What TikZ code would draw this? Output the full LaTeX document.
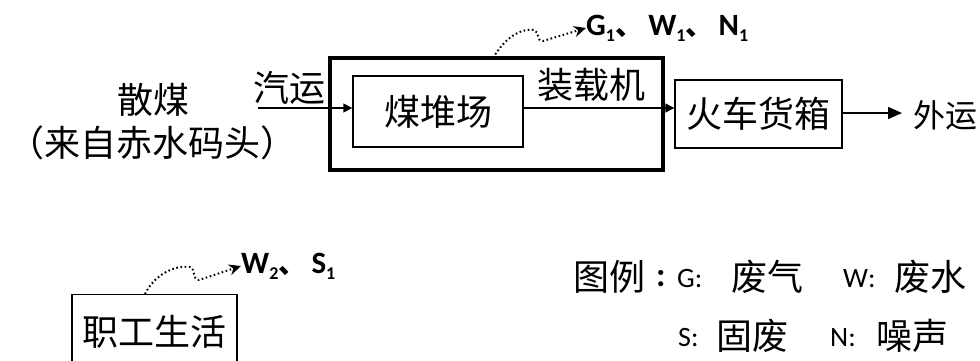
\documentclass[tikz,border=0pt]{standalone}
\usepackage{fontspec}
\setmainfont{Carlito}
\newfontfamily\cjk{Noto Sans CJK SC}
\usetikzlibrary{arrows.meta}
\newcommand\cjkbig{\cjk\fontsize{36}{40}\selectfont}
\newcommand\cjkmid{\cjk\fontsize{32}{36}\selectfont}
\newcommand\latlab{\fontsize{31}{34}\selectfont}
\newcommand\latleg{\fontsize{28}{30}\selectfont}
\newcommand\mysub[1]{\raisebox{-0.4ex}{\fontsize{18}{18}\selectfont #1}}
\newcommand\dun{{\cjk\fontsize{28}{28}\selectfont 、}}
\begin{document}
\begin{tikzpicture}[x=1pt,y=-1pt,
  thinbox/.style={draw=black,line width=1.4pt,inner sep=0pt,font=\cjkbig},
  thickbox/.style={draw=black,line width=4.5pt,inner sep=0pt},
  txt/.style={inner sep=0pt,font=\cjkbig},
  leg/.style={inner sep=0pt,anchor=west,font=\latleg},
  flow/.style={line width=1.6pt,-{Triangle[length=9pt,width=9pt]}},
  emis/.style={line width=2pt,dash pattern=on 1.6pt off 2.6pt,-{Stealth[length=12pt,width=11pt]}}]
\useasboundingbox (0,0) rectangle (980,360);
% boxes
\node[thickbox,minimum width=333pt,minimum height=112pt] (site) at (496.5,114) {};
\node[thinbox,minimum width=170pt,minimum height=71pt] (yard) at (438,111.5) {煤堆场};
\node[thinbox,minimum width=167pt,minimum height=68pt] (train) at (758.5,114) {火车货箱};
\node[thinbox,minimum width=165pt,minimum height=80pt,anchor=north] (staff) at (154.5,294) {\raisebox{8pt}{职工生活}};
% texts
\node[txt] (sanmei) at (153,100) {散煤};
\node[txt] (source) at (153,143) {（来自赤水码头）};
\node[txt] (qiyun) at (289,88) {汽运};
\node[txt] (loader) at (591,85) {装载机};
\node[txt,font=\cjkmid,anchor=west] (waiyun) at (913,115) {外运};
\node[inner sep=0pt,anchor=west,font=\latlab\bfseries] (em1) at (586,28) {G\mysub{1}\dun\,W\mysub{1}\dun\,N\mysub{1}};
\node[inner sep=0pt,anchor=west,font=\latlab\bfseries] (em2) at (241,266) {W\mysub{2}\dun\,S\mysub{1}};
% legend
\node[txt,anchor=west] (lg0) at (573,277) {图例};
\node[inner sep=0pt,anchor=west,font=\fontsize{34}{36}\selectfont\bfseries] (lgc) at (656,279) {:};
\node[leg] (lgG) at (677,279) {G:};
\node[txt,anchor=west] (lgGt) at (731,277) {废气};
\node[leg] (lgW) at (843,279) {W:};
\node[txt,anchor=west] (lgWt) at (894,277) {废水};
\node[leg] (lgS) at (678,338) {S:};
\node[txt,anchor=west] (lgSt) at (716,336) {固废};
\node[leg] (lgN) at (830,338) {N:};
\node[txt,anchor=west] (lgNt) at (876,336) {噪声};
% connectors
\coordinate (in) at (258,108);
\draw[flow] (in) -- (in -| yard.west);
\coordinate (ld) at (523,108);
\draw[flow] (ld) -- (ld -| train.west);
\coordinate (outend) at (902,113);
\draw[flow,-{Triangle[length=14pt,width=12pt]}] (train.east |- outend) -- (outend);
% emissions
\coordinate (e1) at (493,58);
\draw[emis] (e1) .. controls (505,38) and (520,28) .. (534,30)
  .. controls (540,32) and (536,41) .. (543,41) -- (em1.west);
\coordinate (e2) at (145,294);
\draw[emis] (e2) .. controls (155,274) and (175,265) .. (190,267)
  .. controls (196,269) and (192,280) .. (199,280) -- (em2.west);
\end{tikzpicture}
\end{document}
